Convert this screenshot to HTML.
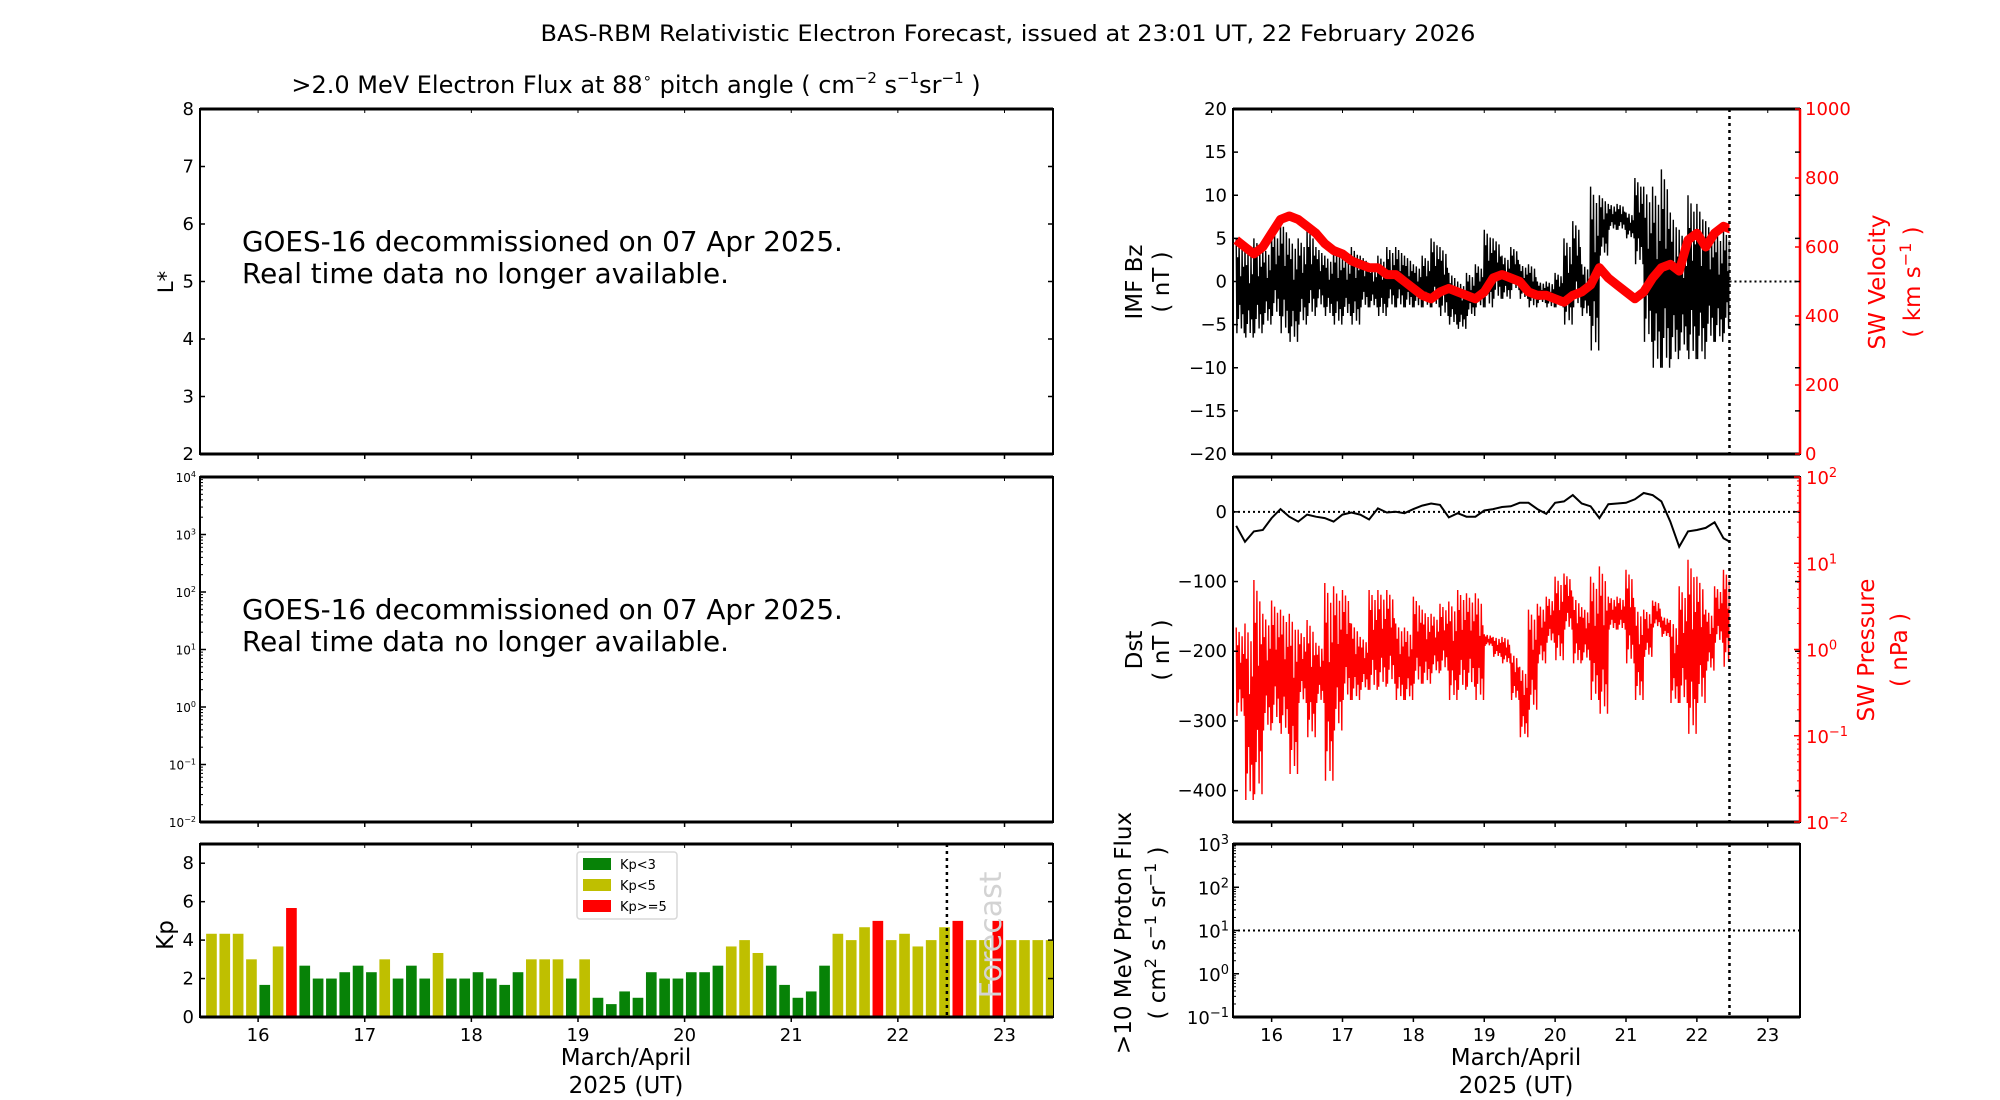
<!DOCTYPE html>
<html><head><meta charset="utf-8"><style>
html,body{margin:0;padding:0;background:#fff;}
svg{display:block;font-family:"DejaVu Sans","Liberation Sans",sans-serif;}
</style></head><body>
<svg id="fig" width="2000" height="1100" viewBox="0 0 2000 1100" xmlns="http://www.w3.org/2000/svg">
<text x="1008" y="41" font-size="22" text-anchor="middle" textLength="935" lengthAdjust="spacingAndGlyphs">BAS-RBM Relativistic Electron Forecast, issued at 23:01 UT, 22 February 2026</text>
<text x="636" y="93" font-size="24" text-anchor="middle">&gt;2.0 MeV Electron Flux at 88<tspan font-size="15" dy="-10">∘</tspan><tspan dy="10">  pitch angle ( cm</tspan><tspan font-size="15" dy="-10">−2</tspan><tspan dy="10"> s</tspan><tspan font-size="15" dy="-10">−1</tspan><tspan dy="10">sr</tspan><tspan font-size="15" dy="-10">−1</tspan><tspan dy="10"> )</tspan></text>
<g id="g"></g>
</svg>
<script>
// ---- data ----
const kpValues = [4.33,4.33,4.33,3,1.67,3.67,5.67,2.67,2,2,2.33,2.67,2.33,3,2,2.67,2,3.33,2,2,2.33,2,1.67,2.33,3,3,3,2,3,1,0.67,1.33,1,2.33,2,2,2.33,2.33,2.67,3.67,4,3.33,2.67,1.67,1,1.33,2.67,4.33,4,4.67,5,4,4.33,3.67,4,4.67,5,4,4,5,4,4,4,4];
const bzHi = [5,4,5,4,6,7,5,5,6,4,3,4,3,4,3,2,3,4,4,3,2,3,5,4,1,0,1,2,6,5,3,4,2,2,0,0,1,5,7,2,11,10,9,9,8,12,11,11,13,8,6,10,9,7,6,6,2];
const bzLo = [-6,-6.5,-6,-5,-4,-6,-7,-5,-4,-3,-4,-5,-4,-5,-3,-3,-4,-3,-3,-3,-3,-3,-3,-4,-5,-5.5,-4,-3,-3,-2,-2,-1,-2,-3,-2.5,-3,-3,-5,-3,-4,-8,3,6,6,5,2,-7,-10,-10,-9,-8,-9,-9,-7,-7,-6,-3];
const swVel = [620,600,580,600,640,680,690,680,660,640,610,590,580,560,550,540,540,520,520,500,480,460,450,470,480,470,460,450,470,510,520,510,500,470,460,460,450,440,460,470,490,540,510,490,470,450,470,510,540,550,530,620,640,600,640,660,650];
const dst = [-20,-43,-28,-26,-9,4,-7,-14,-4,-7,-9,-14,-4,-1,-4,-11,5,-1,0,-2,4,9,12,10,-8,-2,-7,-7,2,4,7,8,13,13,4,-3,13,15,24,12,8,-9,11,12,13,18,27,24,15,-14,-50,-28,-26,-23,-15,-38,-45];
const pHi = [1.8,2.0,6.4,2.6,3.7,2.9,2.6,1.7,2.2,1.2,5.9,5.4,4.9,2.0,1.4,4.9,4.9,4.9,2.0,1.8,4.1,2.9,2.6,3.4,3.6,4.9,4.5,4.5,1.5,1.4,1.4,0.9,0.63,2.9,3.4,4.1,7.0,7.6,4.1,3.1,7.0,9.2,4.1,4.1,8.4,3.1,2.9,3.7,2.4,2.2,5.4,11,7.0,2.9,5.4,8.4,4.1];
const pLo = [0.17,0.018,0.021,0.115,0.14,0.105,0.036,0.24,0.096,0.24,0.030,0.115,0.26,0.26,0.34,0.34,0.37,0.40,0.26,0.26,0.40,0.40,0.53,0.57,0.26,0.34,0.37,0.26,1.1,0.82,0.69,0.26,0.096,0.20,0.69,1.2,0.75,1.7,0.69,0.75,0.26,0.18,1.7,1.7,0.69,0.26,0.82,1.8,1.4,0.24,0.24,0.105,0.24,0.57,1.2,0.63,0.69];
const dayTicks = [16,17,18,19,20,21,22,23];
const lTicks = [2,3,4,5,6,7,8];
const kpTicks = [0,2,4,6,8];
const bzTicks = [-20,-15,-10,-5,0,5,10,15,20];
const velTicks = [0,200,400,600,800,1000];
const dstTicks = [-400,-300,-200,-100,0];
const T0 = 15.5, STEP = 0.125, NOW = 22.46, X0 = 15.455, X1 = 23.455;

const NS = "http://www.w3.org/2000/svg";
const G = document.getElementById('g');
function mk(tag, attrs, parent, txt){
  const e = document.createElementNS(NS, tag);
  for (const k in attrs) e.setAttribute(k, attrs[k]);
  if (txt !== undefined) e.textContent = txt;
  (parent || G).appendChild(e); return e;
}
function xs(p){ return t => p.x0 + (t - X0) / (X1 - X0) * (p.x1 - p.x0); }
function ylin(p, lo, hi){ return v => p.y1 - (v - lo) / (hi - lo) * (p.y1 - p.y0); }
function ylog(p, lo, hi){ return v => p.y1 - (Math.log10(v) - lo) / (hi - lo) * (p.y1 - p.y0); }
function sup(parent, x, y, base, exp, fs, anchor, color){
  const t = mk('text', {x:x, y:y, 'font-size':fs, 'text-anchor':anchor, fill:color||'#000'}, parent);
  mk('tspan', {}, t, base);
  mk('tspan', {'font-size':Math.round(fs*0.7), dy:-fs*0.4}, t, exp);
  return t;
}
function frame(p, name, rightColor){
  const g = mk('g', {});
  
  
  const b = mk('rect', {x:p.x0, y:p.y0, width:p.x1-p.x0, height:p.y1-p.y0, fill:'none', stroke:'#000', 'stroke-width':2}, g);
  
  
  mk('line', {x1:p.x0, y1:p.y0, x2:p.x1, y2:p.y0, stroke:'#000', 'stroke-width':3}, g);
  mk('line', {x1:p.x0, y1:p.y1, x2:p.x1, y2:p.y1, stroke:'#000', 'stroke-width':3}, g);
  if (rightColor) mk('line', {x1:p.x1, y1:p.y0, x2:p.x1, y2:p.y1, stroke:rightColor, 'stroke-width':2.5}, g);
  return g;
}
function xTicks(p, g, labels){
  const X = xs(p);
  dayTicks.forEach(d => {
    const x = X(d);
    mk('line', {x1:x, y1:p.y1, x2:x, y2:p.y1+5, stroke:'#000', 'stroke-width':1.5}, g);
    mk('line', {x1:x, y1:p.y0, x2:x, y2:p.y0+4, stroke:'#000', 'stroke-width':1}, g);
    if (labels){
      const t = mk('text', {x:x, y:p.y1+24, 'font-size':18, 'text-anchor':'middle'}, g, String(d));
      
      
    }
  });
}
function yTicksLin(p, g, ticks, Y, side, color, fs){
  ticks.forEach(v => {
    const y = Y(v);
    const x = side === 'left' ? p.x0 : p.x1;
    const d = side === 'left' ? 5 : -5;
    mk('line', {x1:x, y1:y, x2:x+d, y2:y, stroke:color, 'stroke-width':1.5}, g);
    if (side==='left') mk('line', {x1:p.x1, y1:y, x2:p.x1-5, y2:y, stroke:'#000', 'stroke-width':1.5}, g);
    const lbl = String(v).replace('-', '−');
    const t = mk('text', {x: side==='left' ? x-6 : x+5, y:y+6, 'font-size':fs, 'text-anchor': side==='left'?'end':'start', fill:color}, g, lbl);
    
    
  });
}
function yTicksLog(p, g, lo, hi, side, color, fs){
  const Y = ylog(p, lo, hi);
  for (let e = lo; e <= hi; e++){
    const y = Y(Math.pow(10, e));
    const x = side==='left' ? p.x0 : p.x1;
    const d = side==='left' ? 6 : -6;
    mk('line', {x1:x, y1:y, x2:x+d, y2:y, stroke:color, 'stroke-width':1.5}, g);
    if (e < hi) for (let m = 2; m < 10; m++){
      const ym = Y(m * Math.pow(10, e));
      mk('line', {x1:x, y1:ym, x2:x+d/2, y2:ym, stroke:color, 'stroke-width':1}, g);
    }
    const t = sup(g, side==='left'? x-4 : x+6, y+fs*0.4, '10', String(e).replace('-', '−'), fs, side==='left'?'end':'start', color);
    
    
  }
}
function rotLabel(x, y, txt, fs, color, name){
  const t = mk('text', {x:0, y:0, transform:`translate(${x},${y}) rotate(-90)`, 'font-size':fs, 'text-anchor':'middle', 'dominant-baseline':'central', fill:color||'#000'}, G, txt);
  
  
  return t;
}
function vDot(p, g){
  const x = xs(p)(NOW);
  const l = mk('line', {x1:x, y1:p.y0, x2:x, y2:p.y1, stroke:'#000', 'stroke-width':2.5, 'stroke-dasharray':'3,4'}, g);
  
  
}
function clip(p, id, xmax){
  const defs = mk('defs', {});
  const c = mk('clipPath', {id:id}, defs);
  mk('rect', {x:p.x0, y:p.y0, width:(xmax||p.x1)-p.x0, height:p.y1-p.y0}, c);
}
// rendering pattern for noisy band between hi/lo envelopes (visual texture only)
const ZIG = [1,0,0.8,0.15,0.95,0.3,0.6,0.05,0.9,0.2,0.7,0.0];
function zig(X, Y, hi, lo, logScale){
  const pts = [];
  hi.forEach((h, i) => {
    const t = T0 + i*STEP;
    ZIG.forEach((f, k) => {
      let v;
      if (logScale) v = Math.pow(10, Math.log10(lo[i]) + f*(Math.log10(h) - Math.log10(lo[i])));
      else v = lo[i] + f*(h - lo[i]);
      pts.push([X(t + STEP*k/ZIG.length), Y(v)]);
    });
  });
  return pts.map(q => q[0].toFixed(1)+','+q[1].toFixed(1)).join(' ');
}

// ---- panel geometry ----
const L1 = {x0:200, x1:1053, y0:109, y1:454};
const L2 = {x0:200, x1:1053, y0:477, y1:822};
const L3 = {x0:200, x1:1053, y0:844, y1:1017};
const R1 = {x0:1233, x1:1800, y0:109, y1:454};
const R2 = {x0:1233, x1:1800, y0:477, y1:822};
const R3 = {x0:1233, x1:1800, y0:844, y1:1017};

// ---- L1 ----
let g = frame(L1, 'lstar-panel');
xTicks(L1, g, false);
yTicksLin(L1, g, lTicks, ylin(L1, 2, 8), 'left', '#000', 18);
rotLabel(166, 282, 'L*', 21, '#000', 'lstar-axis-title');
[['GOES-16 decommissioned on 07 Apr 2025.', 251], ['Real time data no longer available.', 283]].forEach((s, k) => {
  const t = mk('text', {x:242, y:s[1], 'font-size':27.8}, g, s[0]);
  
  
});

// ---- L2 ----
g = frame(L2, 'flux-panel');
xTicks(L2, g, false);
yTicksLog(L2, g, -2, 4, 'left', '#000', 12);
[['GOES-16 decommissioned on 07 Apr 2025.', 619], ['Real time data no longer available.', 651]].forEach((s, k) => {
  const t = mk('text', {x:242, y:s[1], 'font-size':27.8}, g, s[0]);
  
  
});

// ---- L3 Kp ----
g = frame(L3, 'kp-panel');
clip(L3, 'clipL3');
const kpX = xs(L3), kpY = ylin(L3, 0, 9);
const bars = mk('g', {'clip-path':'url(#clipL3)'}, g);
const pxDay = (L3.x1 - L3.x0) / (X1 - X0);
kpValues.forEach((v, i) => {
  const t = T0 + i*STEP + STEP/2;
  const col = v < 3 ? '#078207' : (v < 5 ? '#bfbf00' : '#ff0000');
  const r = mk('rect', {x:kpX(t) - 0.4*STEP*pxDay, y:kpY(v), width:0.8*STEP*pxDay, height:kpY(0)-kpY(v), fill:col}, bars);
  
  
});
mk('line', {x1:L3.x0, y1:L3.y1, x2:L3.x1, y2:L3.y1, stroke:'#000', 'stroke-width':3}, g);
xTicks(L3, g, true);
yTicksLin(L3, g, kpTicks, kpY, 'left', '#000', 18);
vDot(L3, g);
const fc = mk('text', {x:0, y:0, transform:`translate(${kpX(22.88)},935) rotate(-90)`, 'font-size':30, 'text-anchor':'middle', 'dominant-baseline':'central', fill:'#d3d3d3'}, g, 'Forecast');


rotLabel(166, 935, 'Kp', 23, '#000', 'kp-axis-title');
const leg = mk('g', {});


mk('rect', {x:577, y:852, width:100, height:67, rx:3, fill:'#fff', stroke:'#d8d8d8', 'stroke-width':1.5}, leg);
[['Kp<3', '#078207', 864], ['Kp<5', '#bfbf00', 885], ['Kp>=5', '#ff0000', 906]].forEach(e => {
  const it = mk('g', {}, leg);
  
  
  mk('rect', {x:583, y:e[2]-6, width:28, height:12, fill:e[1]}, it);
  mk('text', {x:620, y:e[2]+5, 'font-size':13}, it, e[0]);
});
let xl = mk('text', {x:626, y:1065, 'font-size':23, 'text-anchor':'middle'}, G, 'March/April');
 
xl = mk('text', {x:626, y:1093, 'font-size':23, 'text-anchor':'middle'}, G, '2025 (UT)');
 

// ---- R1 ----
g = frame(R1, 'imf-velocity-panel', '#ff0000');
const nowX = xs(R1)(NOW);
clip(R1, 'clipR1', nowX);
const rX = xs(R1), bzY = ylin(R1, -20, 20), vY = ylin(R1, 0, 1000);
let s = mk('polyline', {points:zig(rX, bzY, bzHi, bzLo, false), fill:'none', stroke:'#000', 'stroke-width':1.4, 'clip-path':'url(#clipR1)'}, g);
 
s = mk('polyline', {points:swVel.map((v,i)=>rX(T0+i*STEP).toFixed(1)+','+vY(v).toFixed(1)).join(' '), fill:'none', stroke:'#ff0000', 'stroke-width':9, 'stroke-linejoin':'round', 'clip-path':'url(#clipR1)'}, g);
 
mk('line', {x1:nowX, y1:bzY(0), x2:R1.x1, y2:bzY(0), stroke:'#000', 'stroke-width':2, 'stroke-dasharray':'2,3'}, g);
xTicks(R1, g, false);
yTicksLin(R1, g, bzTicks, bzY, 'left', '#000', 18);
yTicksLin(R1, g, velTicks, vY, 'right', '#ff0000', 18);
vDot(R1, g);
rotLabel(1135, 282, 'IMF Bz', 23, '#000', 'imf-axis-title');
rotLabel(1162, 282, '( nT )', 23, '#000', 'imf-axis-unit');
rotLabel(1878, 282, 'SW Velocity', 23, '#ff0000', 'velocity-axis-title');
let ul = rotLabel(1913, 282, '', 23, '#ff0000', 'velocity-axis-unit');
mk('tspan', {}, ul, '( km s');
mk('tspan', {'font-size':16, dy:-8}, ul, '−1');
mk('tspan', {dy:8}, ul, ' )');

// ---- R2 ----
g = frame(R2, 'dst-pressure-panel', '#ff0000');
clip(R2, 'clipR2', xs(R2)(NOW));
const r2X = xs(R2), dY = ylin(R2, -445, 50), pY = ylog(R2, -2, 2);
s = mk('polyline', {points:zig(r2X, pY, pHi, pLo, true), fill:'none', stroke:'#ff0000', 'stroke-width':1.4, 'clip-path':'url(#clipR2)'}, g);
 
mk('line', {x1:R2.x0, y1:dY(0), x2:R2.x1, y2:dY(0), stroke:'#000', 'stroke-width':2, 'stroke-dasharray':'2,3'}, g);
s = mk('polyline', {points:dst.map((v,i)=>r2X(T0+i*STEP).toFixed(1)+','+dY(v).toFixed(1)).join(' '), fill:'none', stroke:'#000', 'stroke-width':2, 'clip-path':'url(#clipR2)'}, g);
 
xTicks(R2, g, false);
yTicksLin(R2, g, dstTicks, dY, 'left', '#000', 18);
yTicksLog(R2, g, -2, 2, 'right', '#ff0000', 18);
vDot(R2, g);
rotLabel(1135, 650, 'Dst', 23, '#000', 'dst-axis-title');
rotLabel(1162, 650, '( nT )', 23, '#000', 'dst-axis-unit');
rotLabel(1867, 650, 'SW Pressure', 23, '#ff0000', 'pressure-axis-title');
rotLabel(1900, 650, '( nPa )', 23, '#ff0000', 'pressure-axis-unit');

// ---- R3 ----
g = frame(R3, 'proton-panel');
const pfY = ylog(R3, -1, 3);
mk('line', {x1:R3.x0, y1:pfY(10), x2:R3.x1, y2:pfY(10), stroke:'#000', 'stroke-width':2, 'stroke-dasharray':'2,3'}, g);
xTicks(R3, g, true);
yTicksLog(R3, g, -1, 3, 'left', '#000', 18);
vDot(R3, g);
rotLabel(1124, 933, '>10 MeV Proton Flux', 23, '#000', 'proton-axis-title');
ul = rotLabel(1158, 933, '', 23, '#000', 'proton-axis-unit');
mk('tspan', {}, ul, '( cm');
mk('tspan', {'font-size':16, dy:-8}, ul, '2');
mk('tspan', {dy:8}, ul, ' s');
mk('tspan', {'font-size':16, dy:-8}, ul, '−1');
mk('tspan', {dy:8}, ul, ' sr');
mk('tspan', {'font-size':16, dy:-8}, ul, '−1');
mk('tspan', {dy:8}, ul, ' )');
xl = mk('text', {x:1516, y:1065, 'font-size':23, 'text-anchor':'middle'}, G, 'March/April');
 
xl = mk('text', {x:1516, y:1093, 'font-size':23, 'text-anchor':'middle'}, G, '2025 (UT)');
 
</script>
</body></html>
